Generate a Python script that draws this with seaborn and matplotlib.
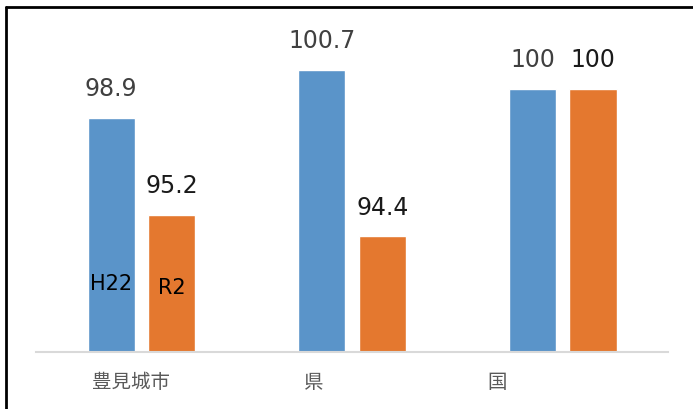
import matplotlib
matplotlib.use("Agg")
import matplotlib.pyplot as plt
import seaborn as sns
import pandas as pd
from matplotlib.lines import Line2D

# Index values by area, for two survey years
areas = ["豊見城市", "県", "国"]
years = ["H22", "R2"]
values_h22 = [98.9, 100.7, 100]
values_r2 = [95.2, 94.4, 100]

df = pd.DataFrame({
    "area": areas * 2,
    "year": [years[0]] * 3 + [years[1]] * 3,
    "value": values_h22 + values_r2,
})

sns.set_theme(style="white")
plt.rcParams["font.family"] = ["Noto Sans CJK JP", "DejaVu Sans"]

fig = plt.figure(figsize=(6.93, 4.09), dpi=100)
ax = fig.add_axes([0.052, 0.139, 0.912, 0.812])

palette = {"H22": "#5A94C9", "R2": "#E4782F"}
sns.barplot(data=df, x="area", y="value", hue="year", palette=palette,
            width=0.574, gap=0.22, legend=False, ax=ax, saturation=1)

ax.set_ylim(90, 102.6)
ax.set_xlim(-0.5, 2.5)
ax.set_xlabel("")
ax.set_ylabel("")
ax.set_yticks([])
for s in ["top", "right", "left"]:
    ax.spines[s].set_visible(False)
ax.spines["bottom"].set_color("#D9D9D9")
ax.spines["bottom"].set_linewidth(1.5)

# Area names sit on a slightly compressed spacing to the left of each group
ax.set_xticks([-0.05, 0.82, 1.69], areas)
ax.tick_params(axis="x", length=0, pad=14, labelsize=14, labelcolor="#595959")

label_colors = ["#404040", "#1A1A1A"]
for cont, col in zip(ax.containers, label_colors):
    ax.bar_label(cont, labels=[f"{v:g}" for v in cont.datavalues], padding=12,
                 fontsize=17, color=col, family="DejaVu Sans")

# Series names written inside the first pair of bars
for cont, name, yv in zip(ax.containers, years, [92.6, 92.45]):
    p = cont.patches[0]
    ax.text(p.get_x() + p.get_width() / 2, yv, name, ha="center", va="center",
            fontsize=15, color="black", family="DejaVu Sans")

# Frame lines along the top and left edges
fig.add_artist(Line2D([0.0087, 1.0], [0.982, 0.982], color="black", lw=2,
                      transform=fig.transFigure))
fig.add_artist(Line2D([0.0087, 0.0087], [0.0, 0.982], color="black", lw=2,
                      transform=fig.transFigure))

fig.savefig("out.png", dpi=100)
